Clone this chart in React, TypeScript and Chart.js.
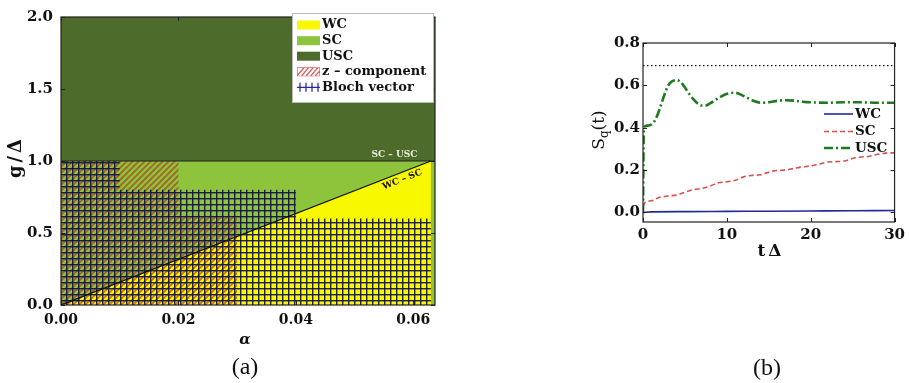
import React, { useEffect, useRef } from "react";
import { Chart, registerables } from "chart.js";
Chart.register(...registerables);

// ---------- Panel (a): regime map ----------
const alphaMax = 0.0637;
const gMax = 2.0;
const uscAlpha = [0, 0.0637];
const uscG = [1, 1];
const scAlpha = [0, 0.0637];
const scG = [1, 1];
const wcAlpha = [0, 0.063];
const wcG = [0, 1];
const zAlpha = [0, 0.02, 0.02, 0.03];
const zG = [1, 1, 0.62, 0.62];
const blochAlpha = [0, 0.01, 0.01, 0.04, 0.04, 0.063];
const blochG = [1, 1, 0.8, 0.8, 0.6, 0.6];
const aXTicks = [0, 0.02, 0.04, 0.06];
const aYTicks = [0, 0.5, 1.0, 1.5, 2.0];
const aLegend = ["WC", "SC", "USC", "z – component", "Bloch vector"];

// ---------- Panel (b): S_q(t) ----------
const tWC = [0, 1, 5, 10, 15, 20, 25, 30];
const sWC = [0, 0.003, 0.004, 0.005, 0.006, 0.007, 0.008, 0.009];
const tSC = [0, 0.3, 1, 2, 3, 4, 5, 6, 7, 8, 9, 10, 11, 12, 13, 14, 15, 16, 17, 18, 19, 20, 21, 22, 23, 24, 25, 26, 27, 28, 29, 30];
const sSC = [0.03, 0.05, 0.055, 0.072, 0.078, 0.082, 0.095, 0.108, 0.113, 0.125, 0.14, 0.145, 0.152, 0.168, 0.175, 0.178, 0.19, 0.198, 0.2, 0.208, 0.215, 0.22, 0.228, 0.238, 0.24, 0.243, 0.255, 0.262, 0.265, 0.275, 0.28, 0.282];
const tUSC = [0, 0.1, 0.5, 1, 1.5, 2, 2.5, 3, 3.5, 4, 4.5, 5, 5.5, 6, 6.5, 7, 7.5, 8, 9, 10, 11, 12, 13, 14, 15, 16, 17, 18, 19, 20, 22, 24, 26, 28, 30];
const sUSC = [0, 0.4, 0.41, 0.415, 0.44, 0.49, 0.55, 0.6, 0.62, 0.625, 0.615, 0.59, 0.56, 0.535, 0.515, 0.505, 0.505, 0.515, 0.54, 0.56, 0.565, 0.55, 0.53, 0.518, 0.52, 0.527, 0.53, 0.528, 0.523, 0.52, 0.518, 0.52, 0.52, 0.518, 0.518];
const tLn2 = [0, 30];
const sLn2 = [0.693, 0.693];
const bXTicks = [0, 10, 20, 30];
const bYTicks = [0, 0.2, 0.4, 0.6, 0.8];
const bLegend = ["WC", "SC", "USC"];

const C_USC = "#4d6b2b";
const C_SC = "#8dc43c";
const C_WC = "#f8f800";

const pts = (xs: number[], ys: number[]) => xs.map((x, i) => ({ x, y: ys[i] }));
const tickFontAX = { family: "DejaVu Serif", weight: "bold" as const, size: 14 };
const tickFontAY = { family: "DejaVu Serif", weight: "bold" as const, size: 15 };
const tickFontB = { family: "DejaVu Serif", weight: "bold" as const, size: 15 };

function makePatterns(ctx: CanvasRenderingContext2D) {
  const h = document.createElement("canvas");
  h.width = 6; h.height = 6;
  const hg = h.getContext("2d")!;
  hg.strokeStyle = "rgba(180,35,30,0.62)";
  hg.lineWidth = 1.7;
  hg.beginPath();
  hg.moveTo(-1, 7); hg.lineTo(7, -1);
  hg.moveTo(-1, 1); hg.lineTo(1, -1);
  hg.moveTo(5, 7); hg.lineTo(7, 5);
  hg.stroke();
  const g = document.createElement("canvas");
  g.width = 6; g.height = 6;
  const gg = g.getContext("2d")!;
  gg.fillStyle = "rgba(22,22,70,0.95)";
  gg.fillRect(0, 0, 6, 1);
  gg.fillRect(0, 0, 1, 6);
  gg.fillStyle = "rgba(22,22,70,0.4)";
  gg.fillRect(0, 1, 6, 1);
  gg.fillRect(1, 0, 1, 6);
  return { hatch: ctx.createPattern(h, "repeat")!, grid: ctx.createPattern(g, "repeat")! };
}

function drawFrameTicks(chart: any, xt: number[], yt: number[]) {
  const { ctx, chartArea: ca, scales } = chart;
  ctx.save();
  ctx.strokeStyle = "#222";
  ctx.lineWidth = 1;
  ctx.beginPath();
  for (const v of xt) {
    const p = Math.round(scales.x.getPixelForValue(v)) + 0.5;
    ctx.moveTo(p, ca.bottom); ctx.lineTo(p, ca.bottom - 4);
    ctx.moveTo(p, ca.top); ctx.lineTo(p, ca.top + 4);
  }
  for (const v of yt) {
    const p = Math.round(scales.y.getPixelForValue(v)) + 0.5;
    ctx.moveTo(ca.left, p); ctx.lineTo(ca.left + 4, p);
    ctx.moveTo(ca.right, p); ctx.lineTo(ca.right - 4, p);
  }
  ctx.stroke();
  ctx.lineWidth = 1.2;
  ctx.strokeRect(ca.left, ca.top, ca.right - ca.left, ca.bottom - ca.top);
  ctx.restore();
}

const plugA = {
  id: "plugA",
  afterDraw(chart: any) {
    const { ctx, scales } = chart;
    const { x, y } = scales;
    drawFrameTicks(chart, aXTicks, aYTicks);
    ctx.save();
    // SC - USC label
    ctx.fillStyle = "#e8ecd8";
    ctx.font = "bold 9px 'DejaVu Serif'";
    ctx.textAlign = "center";
    ctx.textBaseline = "middle";
    ctx.fillText("SC – USC", x.getPixelForValue(0.0568), y.getPixelForValue(1.0) - 6);
    // WC - SC rotated label
    const x0 = x.getPixelForValue(wcAlpha[0]), y0 = y.getPixelForValue(wcG[0]);
    const x1 = x.getPixelForValue(wcAlpha[1]), y1 = y.getPixelForValue(wcG[1]);
    const ang = Math.atan2(y1 - y0, x1 - x0);
    const a = 0.0577;
    const px = x.getPixelForValue(a), py = y.getPixelForValue((a / wcAlpha[1]) * wcG[1]);
    ctx.translate(px, py);
    ctx.rotate(ang);
    ctx.fillStyle = "#111";
    ctx.fillText("WC – SC", 0, 7);
    ctx.restore();

    // legend
    ctx.save();
    const lx = 292, ly = 13, lw = 141, lh = 89;
    ctx.fillStyle = "#fff";
    ctx.fillRect(lx, ly, lw, lh);
    ctx.strokeStyle = "#bbb";
    ctx.lineWidth = 1;
    ctx.strokeRect(lx + 0.5, ly + 0.5, lw, lh);
    const rows = [25, 40.7, 56.2, 71.8, 87.3];
    const fills = [C_WC, C_SC, C_USC];
    ctx.font = "bold 13px 'DejaVu Serif'";
    ctx.textBaseline = "middle";
    ctx.textAlign = "left";
    rows.forEach((ry, i) => {
      if (i < 3) {
        ctx.fillStyle = fills[i];
        ctx.fillRect(297, ry - 4.5, 23, 9);
      } else if (i === 3) {
        ctx.strokeStyle = "rgba(200,60,60,0.8)";
        ctx.lineWidth = 1.3;
        ctx.beginPath();
        for (let k = 0; k < 5; k++) {
          const bx = 297 + k * 4.6;
          ctx.moveTo(bx, ry + 4); ctx.lineTo(bx + 7, ry - 4);
        }
        ctx.save();
        ctx.rect(297, ry - 4.5, 23, 9);
        ctx.clip();
        ctx.stroke();
        ctx.restore();
      } else {
        ctx.strokeStyle = "#2a2aa0";
        ctx.lineWidth = 1.3;
        ctx.beginPath();
        ctx.moveTo(297, ry); ctx.lineTo(320, ry);
        for (let k = 0; k < 4; k++) {
          const bx = 300 + k * 6;
          ctx.moveTo(bx, ry - 4.5); ctx.lineTo(bx, ry + 4.5);
        }
        ctx.stroke();
      }
      ctx.fillStyle = "#111";
      ctx.fillText(aLegend[i], 322, ry);
    });
    ctx.restore();

    // axis titles and panel label
    ctx.save();
    ctx.fillStyle = "#111";
    ctx.textAlign = "center";
    ctx.textBaseline = "middle";
    ctx.font = "bold italic 15px 'DejaVu Serif'";
    ctx.fillText("α", 245, 340);
    ctx.translate(16, 157);
    ctx.rotate(-Math.PI / 2);
    ctx.font = "bold 18px 'DejaVu Serif'";
    (ctx as any).letterSpacing = "3px";
    ctx.fillText("g/Δ", 0, 0);
    ctx.restore();
    ctx.save();
    ctx.fillStyle = "#111";
    ctx.textAlign = "center";
    ctx.textBaseline = "middle";
    ctx.font = "24px 'Liberation Serif'";
    ctx.fillText("(a)", 245, 368);
    ctx.restore();
  },
};

const plugB = {
  id: "plugB",
  afterDraw(chart: any) {
    const { ctx } = chart;
    drawFrameTicks(chart, bXTicks, bYTicks);
    ctx.save();
    const rows = [114, 131.5, 148];
    const styles = [
      { c: "#1f2a9a", w: 1.6, d: [] as number[] },
      { c: "#d6504c", w: 1.6, d: [5, 3] },
      { c: "#1f7a1f", w: 2.6, d: [9, 3, 2, 3] },
    ];
    ctx.font = "bold 13.5px 'DejaVu Serif'";
    ctx.textBaseline = "middle";
    ctx.textAlign = "left";
    rows.forEach((ry, i) => {
      ctx.strokeStyle = styles[i].c;
      ctx.lineWidth = styles[i].w;
      ctx.setLineDash(styles[i].d);
      ctx.beginPath();
      ctx.moveTo(264, ry); ctx.lineTo(293, ry);
      ctx.stroke();
      ctx.setLineDash([]);
      ctx.fillStyle = "#111";
      ctx.fillText(bLegend[i], 295, ry);
    });
    ctx.textAlign = "center";
    ctx.save();
    ctx.font = "bold 17px 'DejaVu Serif'";
    (ctx as any).letterSpacing = "3px";
    ctx.fillText("tΔ", 211, 252);
    ctx.restore();
    ctx.font = "24px 'Liberation Serif'";
    ctx.fillText("(b)", 207, 369);
    // rotated S_q(t)
    ctx.translate(40, 130);
    ctx.rotate(-Math.PI / 2);
    const big = "17px 'DejaVu Serif'", small = "12px 'DejaVu Serif'";
    ctx.font = big; const wS = ctx.measureText("S").width; const wT = ctx.measureText("(t)").width;
    ctx.font = small; const wq = ctx.measureText("q").width;
    let cx = -(wS + wq + wT) / 2;
    ctx.textAlign = "left";
    ctx.font = big; ctx.fillText("S", cx, 0); cx += wS;
    ctx.font = small; ctx.fillText("q", cx, 5); cx += wq;
    ctx.font = big; ctx.fillText("(t)", cx, 0);
    ctx.restore();
  },
};

export default function App() {
  const refA = useRef<HTMLCanvasElement>(null);
  const refB = useRef<HTMLCanvasElement>(null);
  useEffect(() => {
    const cA = refA.current!, cB = refB.current!;
    const { hatch, grid } = makePatterns(cA.getContext("2d")!);
    const line = (data: any, extra: any) => ({ data, showLine: true, pointRadius: 0, borderWidth: 0, ...extra });
    const chA = new Chart(cA, {
      type: "scatter",
      data: {
        datasets: [
          line(pts(uscAlpha, uscG), { fill: "end", backgroundColor: C_USC, order: 10 }),
          line(pts(scAlpha, scG), { fill: "origin", backgroundColor: C_SC, order: 9 }),
          line(pts(wcAlpha, wcG), { fill: "origin", backgroundColor: C_WC, order: 8 }),
          line(pts(zAlpha, zG), { fill: "origin", backgroundColor: hatch, order: 7 }),
          line(pts(blochAlpha, blochG), { fill: "origin", backgroundColor: grid, order: 6 }),
          line(pts(wcAlpha, wcG), { fill: false, borderColor: "#111", borderWidth: 1.3, order: 1 }),
          line(pts(uscAlpha, uscG), { fill: false, borderColor: "#222", borderWidth: 1.2, order: 1 }),
        ],
      },
      options: {
        responsive: false, animation: false, devicePixelRatio: 1, events: [],
        layout: { padding: { top: 12, right: 20, left: 0, bottom: 0 } },
        plugins: { legend: { display: false }, tooltip: { enabled: false } },
        scales: {
          x: {
            type: "linear", min: 0, max: alphaMax,
            grid: { display: false, drawTicks: false }, border: { display: false },
            afterBuildTicks: (s: any) => { s.ticks = aXTicks.map((v) => ({ value: v })); },
            afterFit: (s: any) => { s.height = 78; },
            ticks: { padding: 7, font: tickFontAX, color: "#111", maxRotation: 0, autoSkip: false, callback: (v: any) => Number(v).toFixed(2) },
          },
          y: {
            type: "linear", min: 0, max: gMax,
            grid: { display: false, drawTicks: false }, border: { display: false },
            afterBuildTicks: (s: any) => { s.ticks = aYTicks.map((v) => ({ value: v })); },
            afterFit: (s: any) => { s.width = 61; },
            ticks: { padding: 8, font: tickFontAY, color: "#111", autoSkip: false, callback: (v: any) => Number(v).toFixed(1) },
          },
        },
      },
      plugins: [plugA],
    } as any);
    const chB = new Chart(cB, {
      type: "scatter",
      data: {
        datasets: [
          line(pts(tLn2, sLn2), { borderColor: "#111", borderWidth: 1.3, borderDash: [1.5, 2.5], fill: false }),
          line(pts(tWC, sWC), { borderColor: "#1f2a9a", borderWidth: 1.6, fill: false, cubicInterpolationMode: "monotone" }),
          line(pts(tSC, sSC), { borderColor: "#d6504c", borderWidth: 1.6, borderDash: [5, 3], fill: false, cubicInterpolationMode: "monotone" }),
          line(pts(tUSC, sUSC), { borderColor: "#1f7a1f", borderWidth: 2.6, borderDash: [9, 3, 2, 3], fill: false, cubicInterpolationMode: "monotone" }),
        ],
      },
      options: {
        responsive: false, animation: false, devicePixelRatio: 1, events: [],
        layout: { padding: { top: 43, right: 12, left: 0, bottom: 0 } },
        plugins: { legend: { display: false }, tooltip: { enabled: false } },
        scales: {
          x: {
            type: "linear", min: 0, max: 30,
            grid: { display: false, drawTicks: false }, border: { display: false },
            afterBuildTicks: (s: any) => { s.ticks = bXTicks.map((v) => ({ value: v })); },
            afterFit: (s: any) => { s.height = 161; },
            ticks: { padding: 4, font: tickFontB, color: "#111", maxRotation: 0, autoSkip: false, callback: (v: any) => String(v) },
          },
          y: {
            type: "linear", min: -0.045, max: 0.8,
            grid: { display: false, drawTicks: false }, border: { display: false },
            afterBuildTicks: (s: any) => { s.ticks = bYTicks.map((v) => ({ value: v })); },
            afterFit: (s: any) => { s.width = 83; },
            ticks: { padding: 3, font: tickFontB, color: "#111", autoSkip: false, callback: (v: any) => Number(v).toFixed(1) },
          },
        },
      },
      plugins: [plugB],
    } as any);
    return () => { chA.destroy(); chB.destroy(); };
  }, []);
  return (
    <div style={{ position: "fixed", left: 0, top: 0, width: 909, height: 383, background: "#fff" }}>
      <canvas ref={refA} width={455} height={383} style={{ position: "absolute", left: 0, top: 0, width: 455, height: 383 }} />
      <canvas ref={refB} width={349} height={383} style={{ position: "absolute", left: 560, top: 0, width: 349, height: 383 }} />
    </div>
  );
}
